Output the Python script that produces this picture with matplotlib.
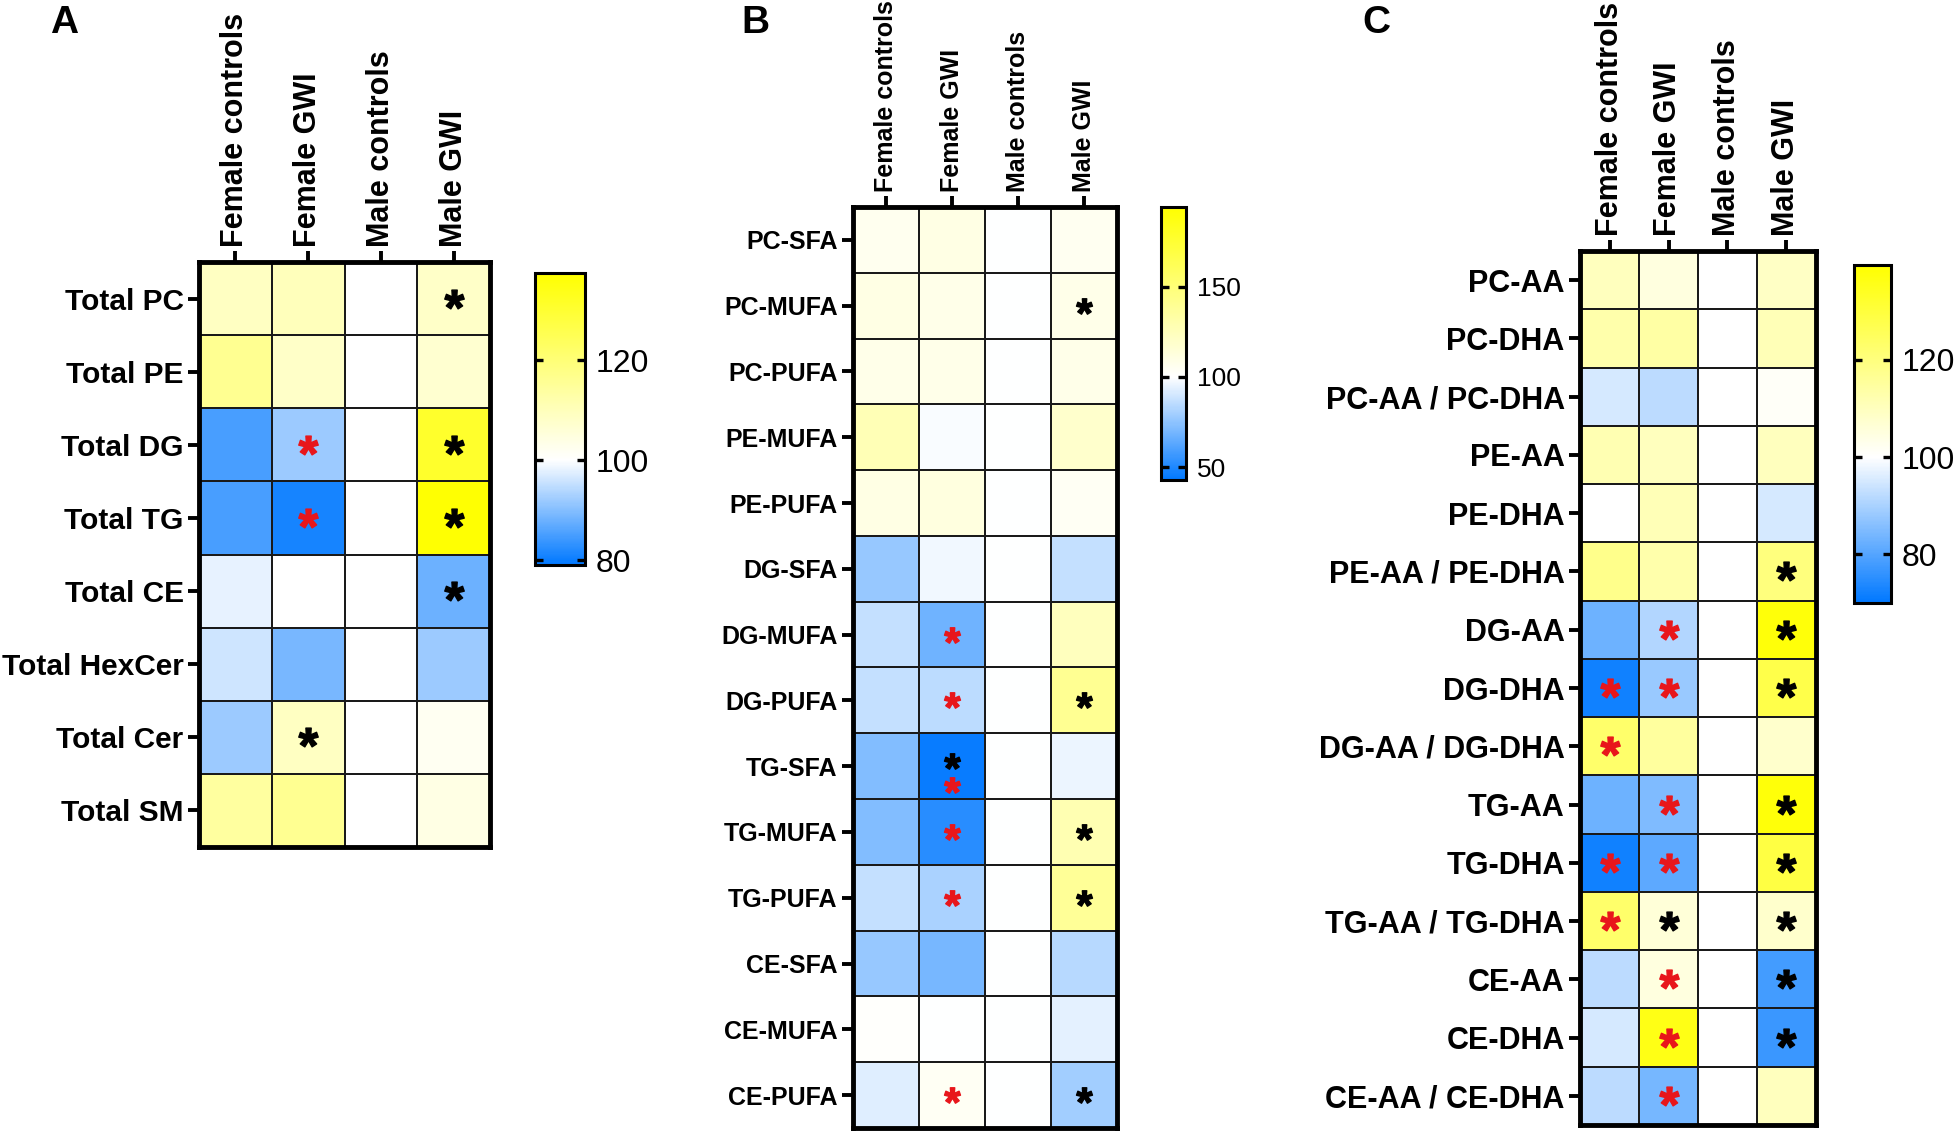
import numpy as np
import matplotlib
matplotlib.use('Agg')
import matplotlib.pyplot as plt
from matplotlib.colors import LinearSegmentedColormap, Normalize
from matplotlib.textpath import TextPath
from matplotlib.font_manager import FontProperties
from matplotlib.path import Path

plt.rcParams['font.family'] = ['Liberation Sans', 'DejaVu Sans']

# ---- data (percent of male controls) ----
groups = ['Female controls', 'Female GWI', 'Male controls', 'Male GWI']

rows_a = ['Total PC', 'Total PE', 'Total DG', 'Total TG', 'Total CE',
          'Total HexCer', 'Total Cer', 'Total SM']
vals_a = [[109, 110, 100, 108],
          [116, 108, 100, 107],
          [85, 92, 100, 131],
          [85, 81, 100, 137],
          [98, 100, 100, 88],
          [96, 89, 100, 92],
          [92, 109, 100, 102],
          [114, 116, 100, 104]]
stars_a = [['', '', '', 'k'],
           ['', '', '', ''],
           ['', 'r', '', 'k'],
           ['', 'r', '', 'k'],
           ['', '', '', 'k'],
           ['', '', '', ''],
           ['', 'k', '', ''],
           ['', '', '', '']]

rows_b = ['PC-SFA', 'PC-MUFA', 'PC-PUFA', 'PE-MUFA', 'PE-PUFA', 'DG-SFA',
          'DG-MUFA', 'DG-PUFA', 'TG-SFA', 'TG-MUFA', 'TG-PUFA', 'CE-SFA',
          'CE-MUFA', 'CE-PUFA']
vals_b = [[106, 110, 100, 105],
          [110, 108, 100, 108],
          [108, 108, 100, 108],
          [127, 99, 100, 119],
          [110, 112, 100, 104],
          [77, 97, 100, 87],
          [87, 68, 100, 124],
          [87, 85, 100, 140],
          [72, 45, 100, 96],
          [72, 52, 100, 128],
          [87, 81, 100, 138],
          [77, 70, 100, 84],
          [101, 100, 100, 94],
          [93, 104, 100, 79]]
stars_b = [['', '', '', ''],
           ['', '', '', 'k'],
           ['', '', '', ''],
           ['', '', '', ''],
           ['', '', '', ''],
           ['', '', '', ''],
           ['', 'r', '', ''],
           ['', 'r', '', 'k'],
           ['', 'kr', '', ''],
           ['', 'r', '', 'k'],
           ['', 'r', '', 'k'],
           ['', '', '', ''],
           ['', '', '', ''],
           ['', 'r', '', 'k']]

rows_c = ['PC-AA', 'PC-DHA', 'PC-AA / PC-DHA', 'PE-AA', 'PE-DHA',
          'PE-AA / PE-DHA', 'DG-AA', 'DG-DHA', 'DG-AA / DG-DHA', 'TG-AA',
          'TG-DHA', 'TG-AA / TG-DHA', 'CE-AA', 'CE-DHA', 'CE-AA / CE-DHA']
vals_c = [[110, 105, 100, 109],
          [113, 114, 100, 111],
          [95, 92, 100, 101],
          [112, 110, 100, 110],
          [100, 111, 100, 95],
          [118, 113, 100, 120],
          [83, 91, 100, 138],
          [72, 88, 100, 128],
          [123, 115, 100, 108],
          [83, 85, 100, 138],
          [72, 81, 100, 129],
          [123, 106, 100, 108],
          [92, 105, 100, 78],
          [95, 136, 100, 77],
          [92, 84, 100, 110]]
stars_c = [['', '', '', ''],
           ['', '', '', ''],
           ['', '', '', ''],
           ['', '', '', ''],
           ['', '', '', ''],
           ['', '', '', 'k'],
           ['', 'r', '', 'k'],
           ['r', 'r', '', 'k'],
           ['r', '', '', ''],
           ['', 'r', '', 'k'],
           ['r', 'r', '', 'k'],
           ['r', 'k', '', 'k'],
           ['', 'r', '', 'k'],
           ['', 'r', '', 'k'],
           ['', 'r', '', '']]

W, H = 1959, 1134
fig = plt.figure(figsize=(W / 100, H / 100), dpi=100)

BLUE = '#0078FF'
YELLOW = '#FFFF00'
RED = '#E8161B'

# asterisk marker from the font, centred on its ink
fp = FontProperties(family='Liberation Sans', weight='bold')
tp = TextPath((0, 0), '*', prop=fp, size=10)
ext = tp.get_extents()
v = tp.vertices.copy()
v[:, 0] -= (ext.x0 + ext.x1) / 2
v[:, 1] -= (ext.y0 + ext.y1) / 2
v[tp.codes == Path.CLOSEPOLY] = 0
star_path = Path(v, tp.codes)


def box(l, t, r, b):
    return [l / W, 1 - b / H, (r - l) / W, (b - t) / H]


def panel(axbox, cbbox, rows, vals, stars, vmin, vmax, ticks,
          rsize, csize, cbsize, ms, letter, lx):
    ax = fig.add_axes(box(*axbox))
    data = np.array(vals, dtype=float)
    mid = (100 - vmin) / (vmax - vmin)
    cmap = LinearSegmentedColormap.from_list(
        'bwy', [(0, BLUE), (mid, 'white'), (1, YELLOW)])
    norm = Normalize(vmin, vmax)
    mesh = ax.pcolormesh(data, cmap=cmap, norm=norm,
                         edgecolors='#1a1a1a', linewidth=1.1)
    ax.set_xlim(0, data.shape[1])
    ax.set_ylim(data.shape[0], 0)

    for i, row in enumerate(stars):
        for j, s in enumerate(row):
            if s == 'kr':
                ax.plot(j + 0.5, i + 0.42, marker=star_path, ms=ms,
                        color='black', ls='none')
                ax.plot(j + 0.5, i + 0.78, marker=star_path, ms=ms,
                        color=RED, ls='none')
            elif s:
                ax.plot(j + 0.5, i + 0.5, marker=star_path, ms=ms,
                        color='black' if s == 'k' else RED, ls='none')

    ax.set_yticks(np.arange(len(rows)) + 0.5)
    ax.set_yticklabels(rows, fontsize=rsize, fontweight='bold')
    ax.xaxis.tick_top()
    ax.set_xticks(np.arange(len(groups)) + 0.5)
    ax.set_xticklabels(groups, fontsize=csize, fontweight='bold', rotation=90)
    ax.tick_params(length=8, width=2.8, pad=3)
    for sp in ax.spines.values():
        sp.set_linewidth(3.5)

    cax = fig.add_axes(box(*cbbox))
    cb = fig.colorbar(mesh, cax=cax, ticks=ticks)
    cb.outline.set_linewidth(2.2)
    cax.tick_params(direction='in', left=True, right=True, length=6,
                    width=2.4, labelsize=cbsize, pad=8)

    fig.text(lx / W, 1 - 33 / H, letter, fontsize=28, fontweight='bold',
             va='baseline')


panel((199, 262, 490, 847), (535, 273, 585, 565), rows_a, vals_a, stars_a,
      79, 137.4, [80, 100, 120], 21.5, 22, 23, 14, 'A', 50)
panel((853, 207, 1117, 1128), (1161, 207, 1186, 480), rows_b, vals_b, stars_b,
      43, 194, [50, 100, 150], 18, 18, 19, 11.5, 'B', 741)
panel((1580, 251, 1816, 1125), (1854, 265, 1891, 603), rows_c, vals_c, stars_c,
      70, 139.5, [80, 100, 120], 22, 22, 23, 14, 'C', 1362)

fig.savefig('out.png', dpi=100, facecolor='white')
